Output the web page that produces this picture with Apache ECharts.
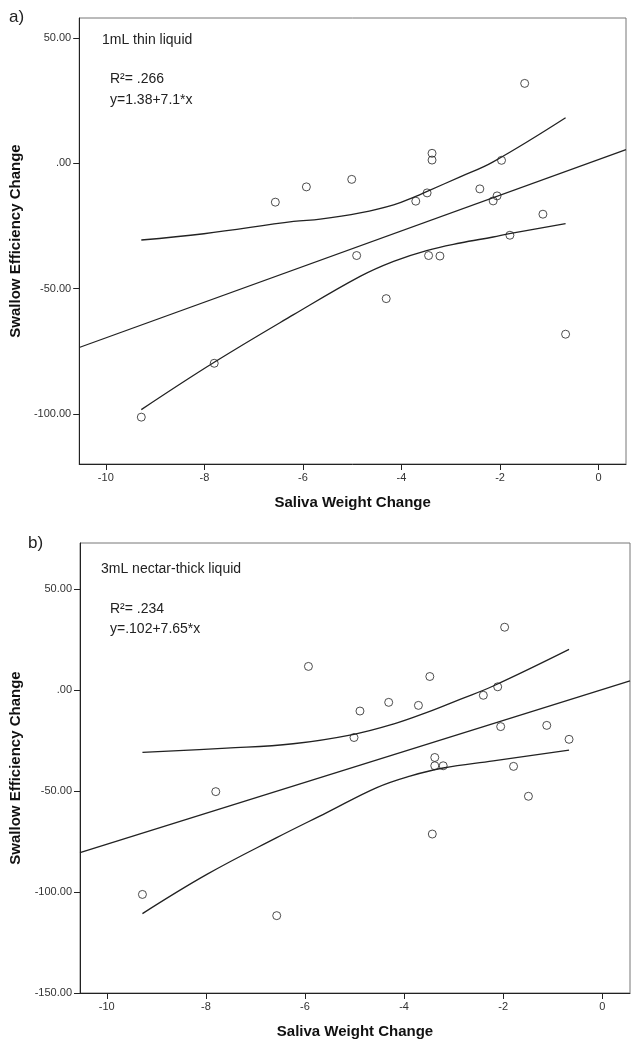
<!DOCTYPE html>
<html>
<head>
<meta charset="utf-8">
<script src="https://cdn.jsdelivr.net/npm/echarts@6/dist/echarts.min.js"></script>
<style>
html,body{margin:0;padding:0;background:#fff;}
#chart{width:641px;height:1050px;}
</style>
</head>
<body>
<div id="chart"></div>
<script>
// ---------- data ----------
// Panel a) 1mL thin liquid: [saliva weight change, swallow efficiency change]
var pointsA = [
  [-9.28,-101.3],[-7.80,-79.8],[-6.56,-15.5],[-5.93,-9.4],[-5.01,-6.4],
  [-4.91,-36.8],[-4.31,-54.0],[-3.71,-15.1],[-3.48,-11.8],[-3.38,4.0],
  [-3.38,1.3],[-3.45,-36.8],[-3.22,-37.0],[-2.41,-10.2],[-2.14,-15.0],
  [-2.06,-13.0],[-1.97,1.2],[-1.80,-28.7],[-1.50,31.9],[-1.13,-20.3],
  [-0.67,-68.2]
];
var fitA = [[-10.54,-73.5],[0.556,5.5]];
var upperA = [[-9.28,-30.6],[-8.01,-28.1],[-6.19,-23.2],[-5.65,-22.3],[-4.84,-19.8],
  [-4.16,-16.6],[-3.71,-13.2],[-3.49,-11.3],[-2.81,-5.4],[-2.14,0.6],[-0.67,18.2]];
var lowerA = [[-9.28,-98.3],[-7.80,-79.4],[-6.19,-60.4],[-4.84,-45.1],[-4.16,-39.1],
  [-3.49,-34.8],[-2.81,-31.8],[-2.14,-29.4],[-1.81,-28.1],[-0.67,-24.1]];

// Panel b) 3mL nectar-thick liquid
var pointsB = [
  [-9.28,-101.2],[-7.80,-50.3],[-6.57,-111.7],[-5.93,11.7],[-5.01,-23.5],
  [-4.89,-10.4],[-4.31,-6.1],[-3.71,-7.6],[-3.48,6.7],[-3.43,-71.3],
  [-3.38,-33.4],[-3.38,-37.5],[-3.21,-37.5],[-2.40,-2.6],[-2.11,1.6],
  [-2.05,-18.1],[-1.97,31.1],[-1.79,-37.8],[-1.49,-52.6],[-1.12,-17.5],
  [-0.67,-24.4]
];
var fitB = [[-10.54,-80.5],[0.56,4.5]];
var upperB = [[-9.28,-30.9],[-7.58,-28.8],[-6.24,-26.6],[-5.01,-21.9],[-4.22,-16.9],
  [-3.55,-11.2],[-2.87,-4.6],[-2.20,2.0],[-0.67,20.1]];
var lowerB = [[-9.28,-110.7],[-7.98,-91.3],[-6.57,-73.1],[-5.56,-60.7],[-4.55,-48.3],
  [-3.88,-42.6],[-3.21,-38.6],[-2.20,-35.1],[-0.67,-29.7]];

// ticks
var xTicks = [-10,-8,-6,-4,-2,0];
var yTicksA = [-100,-50,0,50];
var yTicksB = [-150,-100,-50,0,50];

// labels
var panelLabels = ['a)','b)'];
var titles = ['1mL thin liquid','3mL nectar-thick liquid'];
var r2Texts = ['R\u00B2= .266','R\u00B2= .234'];
var eqTexts = ['y=1.38+7.1*x','y=.102+7.65*x'];
var xName = 'Saliva Weight Change';
var yName = 'Swallow Efficiency Change';

// ---------- chart ----------
var FONT = '"Liberation Sans", Arial, sans-serif';
function yFmt(v){
  var s = Math.abs(v).toFixed(2);
  if (s.charAt(0)==='0') s = s.substring(1);
  return (v<0?'-':'') + s;
}
function xAx(gi, min, max){
  return {
    gridIndex: gi, type:'value', min:min, max:max,
    axisLine:{show:true, onZero:false, lineStyle:{color:'#222', width:1}},
    axisTick:{show:true, customValues:xTicks, length:6, lineStyle:{color:'#222'}},
    axisLabel:{customValues:xTicks, fontSize:11, color:'#333', fontFamily:FONT, margin:8,
      formatter:function(v){return String(v);}},
    splitLine:{show:false},
    name:xName, nameLocation:'middle', nameGap:31,
    nameTextStyle:{fontWeight:'bold', fontSize:15, color:'#111', fontFamily:FONT}
  };
}
function yAx(gi, min, max, ticks){
  return {
    gridIndex: gi, type:'value', min:min, max:max,
    axisLine:{show:true, onZero:false, lineStyle:{color:'#222', width:1}},
    axisTick:{show:true, customValues:ticks, length:6, lineStyle:{color:'#222'}},
    axisLabel:{customValues:ticks, fontSize:11, color:'#333', fontFamily:FONT, margin:8,
      formatter:yFmt},
    splitLine:{show:false},
    name:yName, nameLocation:'middle', nameGap:53, nameRotate:90,
    nameTextStyle:{fontWeight:'bold', fontSize:15, color:'#111', fontFamily:FONT}
  };
}
var lineStyle = {color:'#222', width:1.3};
function lineSeries(i, data, smooth){
  return {type:'line', xAxisIndex:i, yAxisIndex:i, data:data, showSymbol:false,
    smooth:smooth, lineStyle:lineStyle, silent:true, z:2};
}
function scatter(i, data){
  return {type:'scatter', xAxisIndex:i, yAxisIndex:i, data:data, symbol:'circle', symbolSize:8,
    itemStyle:{color:'rgba(0,0,0,0)', borderColor:'#222', borderWidth:1}, z:3};
}
function txt(left, top, text, size){
  return {type:'text', left:left, top:top, style:{text:text, font:size+'px '+FONT, fill:'#222'}};
}

var chart = echarts.init(document.getElementById('chart'), null, {renderer:'canvas'});
chart.setOption({
  backgroundColor:'#fff',
  animation:false,
  grid:[
    {left:79, top:18, width:547, height:446, show:true, borderColor:'#777', borderWidth:1},
    {left:80, top:543, width:550, height:450, show:true, borderColor:'#777', borderWidth:1}
  ],
  xAxis:[xAx(0,-10.54,0.556), xAx(1,-10.54,0.56)],
  yAxis:[yAx(0,-120,58,yTicksA), yAx(1,-150,72.8,yTicksB)],
  series:[
    lineSeries(0, fitA, false), lineSeries(0, upperA, 0.4), lineSeries(0, lowerA, 0.4), scatter(0, pointsA),
    lineSeries(1, fitB, false), lineSeries(1, upperB, 0.4), lineSeries(1, lowerB, 0.4), scatter(1, pointsB)
  ],
  graphic:[
    txt(9, 9, panelLabels[0], 17),
    txt(28, 535, panelLabels[1], 17),
    txt(102, 33, titles[0], 14),
    txt(110, 72, r2Texts[0], 14),
    txt(110, 93, eqTexts[0], 14),
    txt(101, 562, titles[1], 14),
    txt(110, 602, r2Texts[1], 14),
    txt(110, 622, eqTexts[1], 14)
  ]
});
</script>
</body>
</html>
